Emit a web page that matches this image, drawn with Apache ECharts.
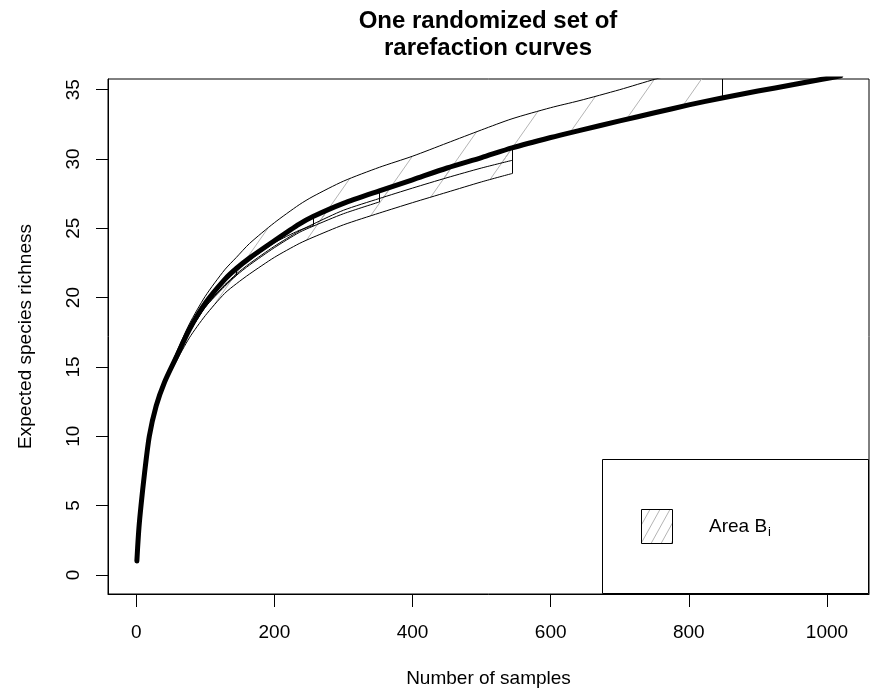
<!DOCTYPE html>
<html><head><meta charset="utf-8">
<script src="https://cdn.jsdelivr.net/npm/echarts@6.0.0/dist/echarts.min.js"></script>
<style>html,body{margin:0;padding:0;background:#fff}#c{width:875px;height:691px}</style>
</head><body><div id="c"></div>
<script>
// ---- data ----
const samples = [1, 2, 4, 7, 12, 19, 29, 41, 57, 77, 100, 128, 145, 164, 200, 236, 256, 300, 352, 400, 450, 500, 544, 600, 641, 700, 752, 800, 848, 900, 950, 993, 1020];
const refCurve = [1.0, 1.9, 3.4, 5.0, 7.3, 10.0, 12.2, 13.9, 15.6, 17.7, 19.6, 21.3, 22.1, 22.85, 24.1, 25.3, 25.85, 26.8, 27.7, 28.5, 29.35, 30.1, 30.8, 31.55, 32.05, 32.75, 33.35, 33.9, 34.4, 34.9, 35.35, 35.75, 36.0];
const subUpper = [1.0, 1.9, 3.4, 5.0, 7.3, 10.0, 12.2, 14.0, 15.9, 18.1, 20.1, 22.0, 22.9, 23.9, 25.4, 26.7, 27.3, 28.4, 29.4, 30.2, 31.15, 32.1, 32.9, 33.7, 34.2, 35.0, 35.77, 36.4, 37.0, null, null, null, null];
const subLow544 = [1.0, 1.9, 3.4, 5.0, 7.3, 10.0, 12.1, 13.7, 15.3, 17.1, 18.7, 20.3, 21.0, 21.7, 22.9, 23.9, 24.35, 25.25, 26.1, 26.85, 27.6, 28.35, 28.95, null, null, null, null, null, null, null, null, null, null];
const subMid544 = [1.0, 1.9, 3.4, 5.0, 7.3, 10.0, 12.2, 13.9, 15.6, 17.6, 19.4, 20.9, 21.7, 22.45, 23.7, 24.8, 25.3, 26.3, 27.15, 27.9, 28.65, 29.35, 29.9, null, null, null, null, null, null, null, null, null, null];
const sub352 = [1.0, 1.9, 3.4, 5.0, 7.3, 10.0, 12.2, 13.9, 15.5, 17.5, 19.3, 20.8, 21.6, 22.35, 23.6, 24.7, 25.15, 26.05, 26.9, null, null, null, null, null, null, null, null, null, null, null, null, null, null];
const sub256 = [1.0, 1.9, 3.4, 5.0, 7.3, 10.0, 12.2, 13.9, 15.6, 17.7, 19.5, 21.2, 22.0, 22.7, 23.95, 24.85, 25.2, null, null, null, null, null, null, null, null, null, null, null, null, null, null, null, null];
const sub145 = [1.0, 1.9, 3.4, 5.0, 7.3, 10.0, 12.2, 13.9, 15.5, 17.5, 19.3, 20.9, 21.6, null, null, null, null, null, null, null, null, null, null, null, null, null, null, null, null, null, null, null, null];
const xTicks = [0, 200, 400, 600, 800, 1000];
const yTicks = [0, 5, 10, 15, 20, 25, 30, 35];
const titleText = 'One randomized set of\nrarefaction curves';
const xName = 'Number of samples';
const yName = 'Expected species richness';
const legendLabel = 'Area B';
const legendSub = 'i';

// ---- hatch patterns ----
function makeHatch(h, H, phase, color) {
  const c = document.createElement('canvas');
  c.width = h; c.height = H;
  const ctx = c.getContext('2d');
  ctx.strokeStyle = color; ctx.lineWidth = 1;
  for (let k = -2; k <= 3; k++) {
    ctx.beginPath();
    ctx.moveTo(phase + k * h, 0);
    ctx.lineTo(phase + k * h - h, H);
    ctx.stroke();
  }
  return c;
}
const hatchArea = { image: makeHatch(47, 67, 5, '#b4b4b4'), repeat: 'repeat' };
const hatchLegend = { image: makeHatch(10, 18, 3, '#b4b4b4'), repeat: 'repeat' };

const FONT = 'Liberation Sans';
const subsets = [subUpper, subLow544, subMid544, sub352, sub256, sub145];

function hatchSeries(sub) {
  return {
    type: 'custom', clip: true, silent: true, z: 2,
    data: [[0, 0]],
    renderItem: function (params, api) {
      const pts = [];
      let last = -1;
      for (let i = 0; i < samples.length; i++) {
        if (sub[i] != null) { pts.push(api.coord([samples[i], sub[i]])); last = i; }
      }
      for (let i = last; i >= 0; i--) pts.push(api.coord([samples[i], refCurve[i]]));
      const top = api.coord([samples[last], sub[last]]);
      const bot = api.coord([samples[last], refCurve[last]]);
      const x = Math.round(top[0]) + 0.5;
      return {
        type: 'group',
        children: [
          { type: 'polygon', shape: { points: pts }, style: { fill: hatchArea, stroke: null } },
          { type: 'line', shape: { x1: x, y1: top[1], x2: x, y2: bot[1] }, style: { stroke: '#000', lineWidth: 1 } }
        ]
      };
    }
  };
}

function lineSeries(vals, width, z) {
  const data = [];
  for (let i = 0; i < samples.length; i++) if (vals[i] != null) data.push([samples[i], vals[i]]);
  return {
    type: 'line', z: z, showSymbol: false, silent: true, animation: false,
    smooth: 0.25,
    data: data,
    lineStyle: { color: '#000', width: width, cap: 'round', join: 'round' }
  };
}

const series = subsets.map(hatchSeries);
subsets.forEach(s => series.push(lineSeries(s, 1, 3)));
series.push(lineSeries(refCurve, 5, 5));

const chart = echarts.init(document.getElementById('c'), null, { renderer: 'canvas' });
chart.setOption({
  animation: false,
  backgroundColor: '#fff',
  title: {
    text: titleText, left: 488, top: 8, textAlign: 'center', padding: 0,
    textStyle: { fontFamily: FONT, fontSize: 24, fontWeight: 'bold', color: '#000', lineHeight: 27 }
  },
  grid: { left: 108, right: 6, top: 79, bottom: 97, show: true, borderColor: '#000', borderWidth: 1, backgroundColor: 'transparent', outerBoundsMode: 'none', containLabel: false },
  xAxis: {
    type: 'value', min: -40.8, max: 1060.8,
    name: xName, nameLocation: 'middle', nameGap: 75,
    nameTextStyle: { fontFamily: FONT, fontSize: 19, color: '#000' },
    axisLine: { show: true, onZero: false, lineStyle: { color: '#000', width: 1 } },
    axisTick: { show: true, length: 13, customValues: xTicks, lineStyle: { color: '#000', width: 1 } },
    axisLabel: { customValues: xTicks, margin: 29, fontFamily: FONT, fontSize: 19, color: '#000', formatter: v => String(v) },
    splitLine: { show: false }
  },
  yAxis: {
    type: 'value', min: -1.38, max: 35.77,
    name: yName, nameLocation: 'middle', nameGap: 73,
    nameTextStyle: { fontFamily: FONT, fontSize: 19, color: '#000' },
    axisLine: { show: true, onZero: false, lineStyle: { color: '#000', width: 1 } },
    axisTick: { show: true, length: 12, customValues: yTicks, lineStyle: { color: '#000', width: 1 } },
    axisLabel: { customValues: yTicks, rotate: 90, margin: 25, fontFamily: FONT, fontSize: 19, color: '#000', formatter: v => String(v) },
    splitLine: { show: false }
  },
  series: series,
  graphic: [
    { type: 'rect', z: 100, shape: { x: 602.5, y: 459.5, width: 266, height: 134 }, style: { fill: '#fff', stroke: '#000', lineWidth: 1 } },
    { type: 'rect', z: 101, shape: { x: 641.5, y: 509.5, width: 31, height: 34 }, style: { fill: hatchLegend, stroke: '#000', lineWidth: 1 } },
    { type: 'text', z: 101, x: 709, y: 527, style: { text: legendLabel, fontFamily: FONT, fontSize: 19, fill: '#000', verticalAlign: 'middle', align: 'left' } },
    { type: 'text', z: 101, x: 768, y: 532, style: { text: legendSub, fontFamily: FONT, fontSize: 13, fill: '#000', verticalAlign: 'middle', align: 'left' } }
  ]
});
</script>
</body></html>
